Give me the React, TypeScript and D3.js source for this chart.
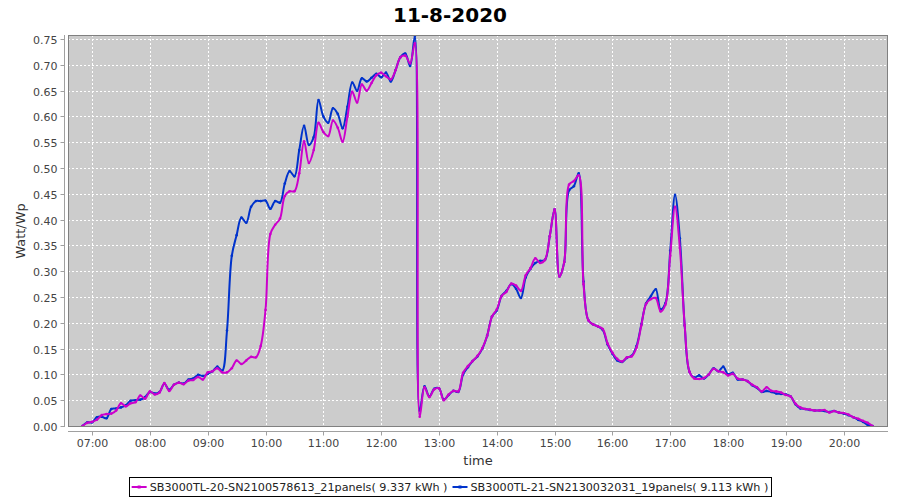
import React, { useEffect, useRef } from "react";
import * as d3 from "d3";

const chartTitle = "11-8-2020";
const xAxisLabel = "time";
const yAxisLabel = "Watt/Wp";
const day = "2020-08-11";
const startTime = "06:50";
const stepMinutes = 5;
const xDomainTimes = ["06:35", "20:46"];
const yDomain = [-0.002, 0.758];

const seriesNames = [
  "SB3000TL-20-SN2100578613_21panels( 9.337 kWh )",
  "SB3000TL-21-SN2130032031_19panels( 9.113 kWh )",
];
const seriesColors = ["#cc00cc", "#0033cc"];

// 5-minute samples from 06:50 to 20:30
const sb20Values = [
  0.000, 0.006,
  0.008, 0.012, 0.021, 0.023, 0.024, 0.030, 0.044, 0.038, 0.044, 0.046, 0.059, 0.053,
  0.067, 0.061, 0.065, 0.083, 0.068, 0.080, 0.084, 0.081, 0.088, 0.089, 0.095, 0.090,
  0.104, 0.106, 0.112, 0.104, 0.104, 0.112, 0.127, 0.120, 0.127, 0.134, 0.133, 0.155,
  0.225, 0.372, 0.390, 0.402, 0.446, 0.455, 0.455, 0.490, 0.552, 0.510, 0.535, 0.588,
  0.570, 0.562, 0.592, 0.578, 0.551, 0.600, 0.648, 0.627, 0.662, 0.650, 0.665, 0.680,
  0.685, 0.678, 0.672, 0.690, 0.715, 0.718, 0.703, 0.742, 0.018, 0.075, 0.056, 0.071,
  0.073, 0.050, 0.061, 0.068, 0.067, 0.103, 0.116, 0.126, 0.136, 0.151, 0.175, 0.212,
  0.226, 0.252, 0.260, 0.276, 0.272, 0.262, 0.292, 0.306, 0.325, 0.316, 0.322, 0.368,
  0.420, 0.290, 0.318, 0.468, 0.475, 0.486, 0.275, 0.205, 0.197, 0.193, 0.188, 0.160,
  0.142, 0.130, 0.125, 0.133, 0.135, 0.152, 0.195, 0.237, 0.246, 0.248, 0.222, 0.235,
  0.330, 0.425, 0.345, 0.195, 0.105, 0.092, 0.091, 0.093, 0.100, 0.111, 0.106, 0.104,
  0.098, 0.101, 0.092, 0.090, 0.087, 0.080, 0.075, 0.067, 0.075, 0.068, 0.067, 0.065,
  0.060, 0.057, 0.043, 0.036, 0.033, 0.032, 0.030, 0.030, 0.031, 0.026, 0.029, 0.026,
  0.025, 0.022, 0.017, 0.014, 0.010, 0.006, 0.000,
];

const sb21Values = [
  0.000, 0.007,
  0.007, 0.017, 0.018, 0.015, 0.033, 0.034, 0.036, 0.040, 0.049, 0.050, 0.051, 0.056,
  0.066, 0.063, 0.066, 0.082, 0.070, 0.080, 0.084, 0.082, 0.090, 0.092, 0.099, 0.097,
  0.101, 0.106, 0.115, 0.107, 0.185, 0.330, 0.370, 0.404, 0.394, 0.425, 0.436, 0.436,
  0.437, 0.421, 0.436, 0.433, 0.470, 0.494, 0.484, 0.535, 0.582, 0.545, 0.560, 0.632,
  0.600, 0.588, 0.616, 0.605, 0.577, 0.619, 0.666, 0.650, 0.674, 0.668, 0.675, 0.683,
  0.676, 0.685, 0.668, 0.690, 0.715, 0.722, 0.698, 0.756, 0.030, 0.077, 0.057, 0.072,
  0.073, 0.051, 0.060, 0.068, 0.066, 0.100, 0.114, 0.126, 0.135, 0.150, 0.175, 0.212,
  0.224, 0.252, 0.262, 0.275, 0.266, 0.248, 0.288, 0.305, 0.316, 0.320, 0.322, 0.368,
  0.420, 0.290, 0.318, 0.457, 0.465, 0.490, 0.280, 0.205, 0.197, 0.193, 0.186, 0.158,
  0.140, 0.127, 0.124, 0.132, 0.136, 0.155, 0.197, 0.238, 0.252, 0.265, 0.226, 0.238,
  0.340, 0.448, 0.364, 0.195, 0.105, 0.094, 0.098, 0.092, 0.100, 0.112, 0.106, 0.115,
  0.100, 0.103, 0.090, 0.090, 0.087, 0.079, 0.074, 0.066, 0.068, 0.066, 0.063, 0.062,
  0.061, 0.057, 0.042, 0.034, 0.033, 0.031, 0.030, 0.030, 0.029, 0.027, 0.029, 0.026,
  0.024, 0.021, 0.017, 0.012, 0.008, 0.002, 0.000,
];

const yTickValues = [0, 0.05, 0.1, 0.15, 0.2, 0.25, 0.3, 0.35, 0.4, 0.45, 0.5, 0.55, 0.6, 0.65, 0.7, 0.75];
const xTickLabels = [
  "07:00", "08:00", "09:00", "10:00", "11:00", "12:00", "13:00",
  "14:00", "15:00", "16:00", "17:00", "18:00", "19:00", "20:00",
];

const W = 900;
const H = 500;
const plot = { left: 68, top: 35, right: 888, bottom: 427 };
const FONT = "'DejaVu Sans', sans-serif";

export default function App() {
  const ref = useRef<SVGSVGElement>(null);

  useEffect(() => {
    const svg = d3.select(ref.current);
    svg.selectAll("*").remove();

    const parse = d3.timeParse("%Y-%m-%d %H:%M");
    const t0 = parse(`${day} ${startTime}`) as Date;
    const times = sb20Values.map((_, i) => d3.timeMinute.offset(t0, i * stepMinutes));

    const x = d3
      .scaleTime()
      .domain(xDomainTimes.map((s) => parse(`${day} ${s}`) as Date))
      .range([plot.left, plot.right]);
    const y = d3.scaleLinear().domain(yDomain).range([plot.bottom, plot.top]);

    svg.append("rect").attr("width", W).attr("height", H).attr("fill", "#ffffff");

    // Title
    svg
      .append("text")
      .attr("x", W / 2)
      .attr("y", 22)
      .attr("text-anchor", "middle")
      .attr("font-family", FONT)
      .attr("font-size", 20)
      .attr("font-weight", "bold")
      .attr("fill", "#000")
      .text(chartTitle);

    // Plot background
    svg
      .append("rect")
      .attr("x", plot.left)
      .attr("y", plot.top)
      .attr("width", plot.right - plot.left)
      .attr("height", plot.bottom - plot.top)
      .attr("fill", "#cccccc");

    const xTicks = xTickLabels.map((s) => parse(`${day} ${s}`) as Date);

    // Gridlines
    const grid = svg.append("g").attr("stroke", "#ffffff").attr("stroke-width", 1).attr("stroke-dasharray", "2,2");
    yTickValues.forEach((v) => {
      const yy = Math.round(y(v)) + 0.5;
      grid.append("line").attr("x1", plot.left).attr("x2", plot.right).attr("y1", yy).attr("y2", yy);
    });
    xTicks.forEach((t) => {
      const xx = Math.round(x(t)) + 0.5;
      grid.append("line").attr("x1", xx).attr("x2", xx).attr("y1", plot.top).attr("y2", plot.bottom);
    });

    // Clip
    svg
      .append("clipPath")
      .attr("id", "plotClip")
      .append("rect")
      .attr("x", plot.left)
      .attr("y", plot.top)
      .attr("width", plot.right - plot.left)
      .attr("height", plot.bottom - plot.top);

    const line = d3
      .line<number>()
      .x((_, i) => x(times[i]))
      .y((d) => y(d))
      .curve(d3.curveCatmullRom.alpha(0.5));

    const series = [sb21Values, sb20Values];
    const colors = [seriesColors[1], seriesColors[0]];
    const lg = svg.append("g").attr("clip-path", "url(#plotClip)");
    series.forEach((vals, si) => {
      lg.append("path")
        .attr("d", line(vals) as string)
        .attr("fill", "none")
        .attr("stroke", colors[si])
        .attr("stroke-width", 2)
        .attr("stroke-linejoin", "round");
      lg.selectAll(null)
        .data(vals)
        .enter()
        .append("circle")
        .attr("cx", (_, i) => x(times[i]))
        .attr("cy", (d) => y(d))
        .attr("r", 1.3)
        .attr("fill", colors[si]);
    });

    // Plot outline
    svg
      .append("rect")
      .attr("x", plot.left + 0.5)
      .attr("y", plot.top + 0.5)
      .attr("width", plot.right - plot.left - 1)
      .attr("height", plot.bottom - plot.top - 1)
      .attr("fill", "none")
      .attr("stroke", "#808080")
      .attr("stroke-width", 1);

    // Y axis (offset)
    const yAxisX = plot.left - 3.5;
    svg.append("line").attr("x1", yAxisX).attr("x2", yAxisX).attr("y1", plot.top).attr("y2", plot.bottom).attr("stroke", "#a0a0a0");
    yTickValues.forEach((v) => {
      const yy = Math.round(y(v)) + 0.5;
      svg.append("line").attr("x1", yAxisX - 4).attr("x2", yAxisX).attr("y1", yy).attr("y2", yy).attr("stroke", "#a0a0a0");
      svg
        .append("text")
        .attr("x", yAxisX - 7)
        .attr("y", yy + 4)
        .attr("text-anchor", "end")
        .attr("font-family", FONT)
        .attr("font-size", 11)
        .attr("fill", "#444")
        .text(d3.format(".2f")(v));
    });

    // X axis (offset)
    const xAxisY = plot.bottom + 4.5;
    svg.append("line").attr("x1", plot.left).attr("x2", plot.right).attr("y1", xAxisY).attr("y2", xAxisY).attr("stroke", "#a0a0a0");
    xTicks.forEach((t, i) => {
      const xx = Math.round(x(t)) + 0.5;
      svg.append("line").attr("x1", xx).attr("x2", xx).attr("y1", xAxisY).attr("y2", xAxisY + 4).attr("stroke", "#a0a0a0");
      svg
        .append("text")
        .attr("x", xx)
        .attr("y", xAxisY + 15)
        .attr("text-anchor", "middle")
        .attr("font-family", FONT)
        .attr("font-size", 11)
        .attr("fill", "#444")
        .text(xTickLabels[i]);
    });

    // Axis labels
    svg
      .append("text")
      .attr("x", (plot.left + plot.right) / 2)
      .attr("y", 465)
      .attr("text-anchor", "middle")
      .attr("font-family", FONT)
      .attr("font-size", 13)
      .attr("fill", "#333")
      .text(xAxisLabel);
    svg
      .append("text")
      .attr("transform", `translate(25,${(plot.top + plot.bottom) / 2}) rotate(-90)`)
      .attr("text-anchor", "middle")
      .attr("font-family", FONT)
      .attr("font-size", 13)
      .attr("fill", "#333")
      .text(yAxisLabel);

    // Legend
    const leg = svg.append("g");
    const legY = 487;
    const items = seriesNames.map((name, i) => {
      const g = leg.append("g");
      g.append("line").attr("x1", 0).attr("x2", 15).attr("y1", 0).attr("y2", 0).attr("stroke", seriesColors[i]).attr("stroke-width", 2);
      g.append("rect").attr("x", 6).attr("y", -1.5).attr("width", 3).attr("height", 3).attr("fill", seriesColors[i]);
      const tx = g
        .append("text")
        .attr("x", 18)
        .attr("y", 4)
        .attr("font-family", FONT)
        .attr("font-size", 11.2)
        .attr("fill", "#222")
        .text(name);
      const w = 18 + (tx.node() as SVGTextElement).getComputedTextLength();
      return { g, w };
    });
    const gap = 5;
    const pad = 2;
    const total = items.reduce((s, it) => s + it.w, 0) + gap * (items.length - 1);
    let cx = W / 2 - total / 2;
    items.forEach((it) => {
      it.g.attr("transform", `translate(${cx},${legY})`);
      cx += it.w + gap;
    });
    leg
      .append("rect")
      .attr("x", Math.round(W / 2 - total / 2 - pad) - 0.5)
      .attr("y", legY - 9.5)
      .attr("width", Math.round(total + pad * 2 + 1))
      .attr("height", 19)
      .attr("fill", "none")
      .attr("stroke", "#000")
      .attr("stroke-width", 1);
  }, []);

  return (
    <svg
      ref={ref}
      width={W}
      height={H}
      style={{ position: "absolute", left: 0, top: 0, display: "block" }}
    />
  );
}
